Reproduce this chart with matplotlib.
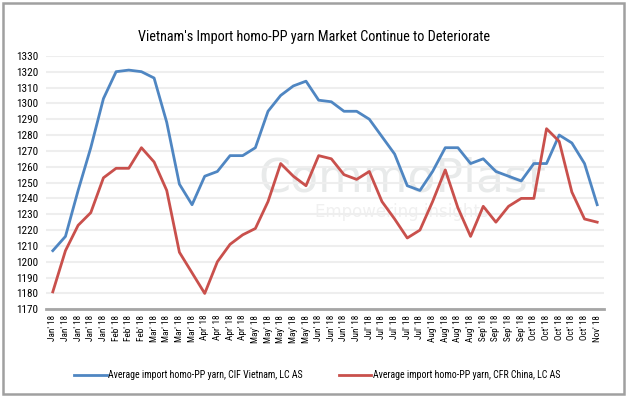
import matplotlib.pyplot as plt
from matplotlib import font_manager
from matplotlib.patches import Rectangle

labels = (["Jan' 18"] * 5 + ["Feb' 18"] * 3 + ["Mar' 18"] * 4 + ["Apr' 18"] * 4 +
          ["May' 18"] * 5 + ["Jun' 18"] * 4 + ["Jul' 18"] * 5 + ["Aug' 18"] * 4 +
          ["Sep' 18"] * 4 + ["Oct' 18"] * 5 + ["Nov' 18"])

cif_vietnam = [1207, 1216, 1245, 1272, 1303, 1320, 1321, 1320, 1316, 1288,
               1249, 1236, 1254, 1257, 1267, 1267, 1272, 1295, 1305, 1311,
               1314, 1302, 1301, 1295, 1295, 1290, 1279, 1268, 1248, 1245,
               1257, 1272, 1272, 1262, 1265, 1257, 1254, 1251, 1262, 1262,
               1280, 1275, 1262, 1236]

cfr_china = [1181, 1207, 1223, 1231, 1253, 1259, 1259, 1272, 1263, 1245,
             1206, 1193, 1180, 1200, 1211, 1217, 1221, 1238, 1262, 1254,
             1248, 1267, 1265, 1255, 1252, 1257, 1238, 1227, 1215, 1220,
             1238, 1258, 1234, 1216, 1235, 1225, 1235, 1240, 1240, 1284,
             1276, 1244, 1227, 1225]

yticks = list(range(1170, 1331, 10))

# the original uses a narrow font; take one if there is any
names = {f.name for f in font_manager.fontManager.ttflist}
narrow = None
for n in ['Liberation Sans Narrow', 'Roboto Condensed', 'Open Sans Condensed']:
    if n in names:
        narrow = n
        break
if narrow:
    plt.rcParams['font.family'] = [narrow, 'DejaVu Sans']
    sz_title, sz_leg, sz_x, sz_y = 10.3, 7.1, 6.6, 8
else:
    plt.rcParams['font.family'] = ['Liberation Sans', 'DejaVu Sans']
    sz_title, sz_leg, sz_x, sz_y = 9.5, 6.6, 6.2, 7.8

fig = plt.figure(figsize=(6.28, 3.96), dpi=100)
ax = fig.add_axes([0.074, 0.219, 0.887, 0.640])

x = list(range(len(labels)))
ax.plot(x, cif_vietnam, color='#4f86c2', lw=2,
        label='Average import homo-PP yarn, CIF Vietnam, LC AS', zorder=3)
ax.plot(x, cfr_china, color='#c9504c', lw=2,
        label='Average import homo-PP yarn, CFR China, LC AS', zorder=3)

ax.set_xlim(-0.5, len(labels) - 0.5)
ax.set_ylim(1170, 1330)
ax.set_yticks(yticks)
ax.set_xticks(x)
ax.set_xticklabels(labels, rotation=90, fontsize=sz_x)
ax.tick_params(axis='y', labelsize=sz_y, length=0, pad=6)
ax.tick_params(axis='x', length=0, pad=4)
ax.grid(axis='y', color='#eeeeee', lw=1.5, zorder=0)

for s in ['top', 'right', 'left']:
    ax.spines[s].set_visible(False)
ax.spines['bottom'].set_color('#a6a6a6')
ax.spines['bottom'].set_linewidth(2)

# faint watermark
ax.text(0.638, 0.515, 'CommoPlast', transform=ax.transAxes, fontsize=33,
        family='DejaVu Sans', color='#e8eaea', ha='center', va='center', zorder=1)
ax.text(0.638, 0.385, 'Empowering insights', transform=ax.transAxes, fontsize=12,
        family='DejaVu Sans', color='#f0f0f0', ha='center', va='center', zorder=1)

fig.suptitle("Vietnam's Import homo-PP yarn Market Continue to Deteriorate",
             x=0.5, y=0.925, fontsize=sz_title)

fig.legend(loc='center', bbox_to_anchor=(0.505, 0.053), ncol=2, frameon=False,
           fontsize=sz_leg, handlelength=3.3, handletextpad=0.15, columnspacing=3.6)

fig.patches.append(Rectangle((0.004, 0.006), 0.99, 0.986, transform=fig.transFigure,
                             fill=False, edgecolor='#a0a0a0', lw=1.8))

plt.savefig('out.png', dpi=100)
